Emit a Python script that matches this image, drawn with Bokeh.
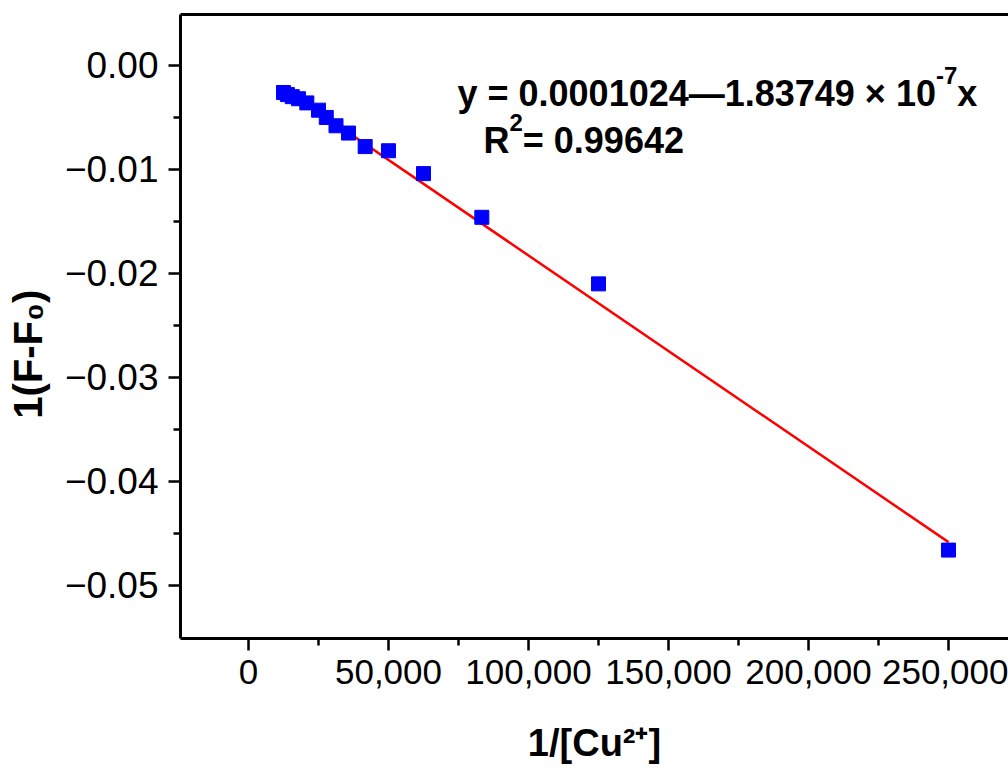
import math
from bokeh.plotting import figure
from bokeh.models import (Range1d, FixedTicker, NumeralTickFormatter,
                          CustomJSTickFormatter, LinearAxis, Label)
from bokeh.embed import file_html
from bokeh.resources import INLINE

# ---- data ----
x_vals = [12500, 13889, 15625, 17857, 20833, 25000, 27778, 31250, 35714,
          41667, 50000, 62500, 83333, 125000, 250000]
y_vals = [-0.0026, -0.0028, -0.0030, -0.0032, -0.0036, -0.0043, -0.0050,
          -0.0058, -0.0065, -0.0078, -0.0082, -0.0104, -0.0146, -0.0210,
          -0.0466]
fit_intercept = 0.0001024
fit_slope = -1.83749e-7

x_major = [0, 50000, 100000, 150000, 200000, 250000]
x_minor = [25000, 75000, 125000, 175000, 225000]
y_major = [0.0, -0.01, -0.02, -0.03, -0.04, -0.05]
y_minor = [-0.005, -0.015, -0.025, -0.035, -0.045]

x_title = "1/[Cu\u00b2\u207a]"
y_title = "1(F-F\u2080)"
eq_line1 = "y = 0.0001024\u20141.83749 \u00d7 10"
eq_sup = "-7"
eq_tail = "x"
r2_main = "R"
r2_sup = "2"
r2_tail = "= 0.99642"

# ---- layout (canvas sits at the page's top-left corner) ----
W, H = 1008, 769
FL, FT, FW, FH = 180, 14, 828, 624
x_start, x_end = -24286, 271428
y_start, y_end = -0.0551, 0.0049

FONT = "Liberation Sans"

p = figure(width=W, height=H, output_backend="svg", toolbar_location=None,
           x_range=Range1d(x_start, x_end), y_range=Range1d(y_start, y_end),
           min_border_left=FL, min_border_top=FT, min_border_right=0,
           min_border_bottom=H - FT - FH)
p.outline_line_color = None
p.grid.visible = False
p.background_fill_color = "white"
p.border_fill_color = "white"

for ax in (p.xaxis[0], p.yaxis[0]):
    ax.axis_line_width = 3
    ax.axis_line_color = "black"
    ax.major_tick_line_width = 2.5
    ax.minor_tick_line_width = 2.5
    ax.major_tick_in = 0
    ax.major_tick_out = 12
    ax.minor_tick_in = 0
    ax.minor_tick_out = 7
    ax.major_label_text_font = FONT
    ax.major_label_text_color = "black"
    ax.axis_label_text_font = FONT
    ax.axis_label_text_font_style = "bold"
    ax.axis_label_text_color = "black"

p.xaxis[0].major_label_text_font_size = "35px"
p.yaxis[0].major_label_text_font_size = "37px"
p.xaxis[0].ticker = FixedTicker(ticks=x_major, minor_ticks=x_minor)
p.xaxis[0].formatter = NumeralTickFormatter(format="0,0")
p.xaxis[0].major_label_standoff = 9
p.xaxis[0].axis_label = x_title
p.xaxis[0].axis_label_text_font_size = "38px"
p.xaxis[0].axis_label_standoff = 35

p.yaxis[0].ticker = FixedTicker(ticks=y_major, minor_ticks=y_minor)
p.yaxis[0].formatter = CustomJSTickFormatter(
    code='return (tick < -1e-12 ? "\\u2212" : "") + Math.abs(tick).toFixed(2);')
p.yaxis[0].major_label_standoff = 10
# trailing no-break spaces move the centred label down to where it sits
p.yaxis[0].axis_label = y_title + "\u00a0" * 5
p.yaxis[0].axis_label_text_font_size = "40px"
p.yaxis[0].axis_label_standoff = 12

top = LinearAxis(ticker=FixedTicker(ticks=[]), axis_line_width=3,
                 major_tick_out=0, major_tick_in=0, minor_tick_out=0,
                 minor_tick_in=0, major_label_standoff=0,
                 major_label_text_font_size="0px")
p.add_layout(top, "above")

# ---- glyphs ----
fx = [min(x_vals), max(x_vals)]
fy = [fit_intercept + fit_slope * v for v in fx]
p.line(fx, fy, line_color="#ff0000", line_width=2.5)
p.scatter(x_vals, y_vals, marker="square", size=14, fill_color="#0000ff",
          line_color="#0000ff")


def dx(px):
    return x_start + (px - FL) * (x_end - x_start) / FW


def dy(py):
    return y_end - (py - FT) * (y_end - y_start) / FH


def lab(px, py, text, size, bold=True):
    p.add_layout(Label(x=dx(px), y=dy(py), text=text, text_font=FONT,
                       text_font_size=f"{size}px",
                       text_font_style="bold" if bold else "normal",
                       text_color="black", text_align="left",
                       text_baseline="alphabetic"))


# equation
lab(457, 93, eq_line1, 36)
lab(935.4, 75, eq_sup, 24)
lab(956.7, 93, eq_tail, 36)
lab(483, 140, r2_main, 36)
lab(509, 122, r2_sup, 24)
lab(522.3, 140, r2_tail, 36)

open("out.html", "w", encoding="utf-8").write(file_html(p, INLINE))
